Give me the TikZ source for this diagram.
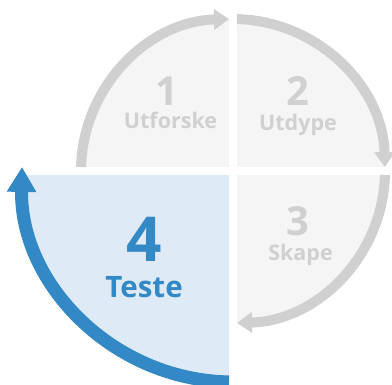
\documentclass[tikz,border=0pt]{standalone}
\usepackage{fontspec}
\setmainfont{Open Sans}
\usetikzlibrary{arrows.meta}

\definecolor{qgray}{HTML}{F5F5F5}
\definecolor{agray}{HTML}{CFD0CF}
\definecolor{tgray}{HTML}{D0D0D0}
\definecolor{qblue}{HTML}{DEEBF6}
\definecolor{ablue}{HTML}{3388C6}

\tikzset{
	grayarc/.style={draw=agray, line width=10pt, -{Triangle[width=20pt,length=15pt]}},
	bluearc/.style={draw=ablue, line width=13pt, -{Triangle[width=28pt,length=25pt]}},
	num/.style={inner sep=0pt, anchor=base, font=\bfseries\fontsize{40}{40}\selectfont},
	lbl/.style={inner sep=0pt, anchor=base, font=\bfseries\fontsize{21.5}{21.5}\selectfont},
}

\begin{document}
\begin{tikzpicture}[x=1pt,y=1pt]

	\useasboundingbox (-233,-214) rectangle (159,171);

	% quadrants
	\fill[qgray] (0,0) circle (152);
	\fill[qblue] (0,0) -- (-211,0) arc[start angle=180, end angle=270, radius=211] -- cycle;
	\draw[white, line width=8pt] (-240,0) -- (170,0);
	\draw[white, line width=8pt] (0,-220) -- (0,175);

	% arrows
	\draw[grayarc] (178.5:152) arc[start angle=178.5, end angle=91.5, radius=152];
	\draw[grayarc] (88.5:152) arc[start angle=88.5, end angle=1.5, radius=152];
	\draw[grayarc] (-1.5:152) arc[start angle=-1.5, end angle=-88.5, radius=152];
	\draw[bluearc] (268.9:211) arc[start angle=268.9, end angle=178.9, radius=211];

	% labels
	\node[num, text=tgray] (n1) at (-66,65) {1};
	\node[lbl, text=tgray] (l1) at (-62.5,42) {Utforske};
	\node[num, text=tgray] (n2) at (65,65) {2};
	\node[lbl, text=tgray] (l2) at (65,40) {Utdype};
	\node[num, text=tgray] (n3) at (65,-65) {3};
	\node[lbl, text=tgray] (l3) at (67.5,-90) {Skape};
	\node[num, text=ablue, font=\bfseries\fontsize{62}{62}\selectfont] (n4) at (-89,-91) {4};
	\node[lbl, text=ablue, font=\bfseries\fontsize{29.5}{29.5}\selectfont] (l4) at (-89,-127) {Teste};

\end{tikzpicture}
\end{document}
